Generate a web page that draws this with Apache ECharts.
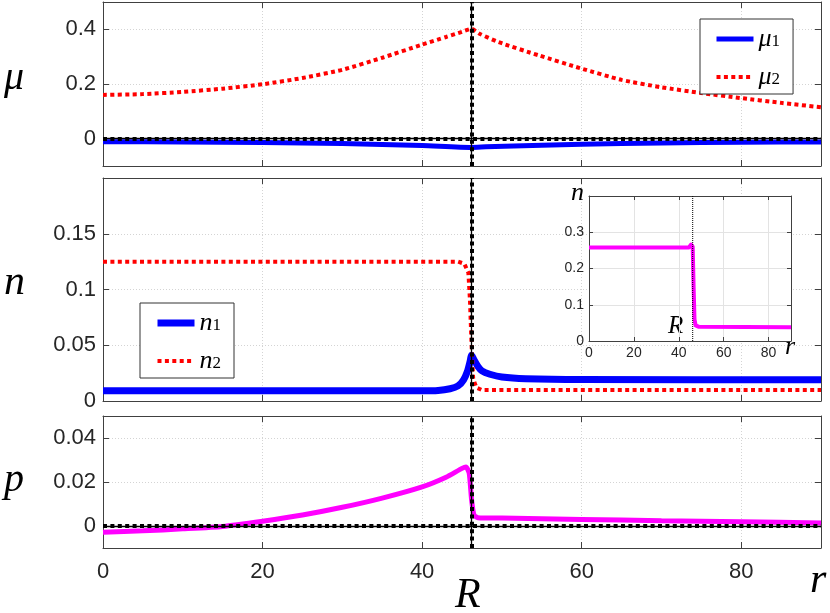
<!DOCTYPE html>
<html><head><meta charset="utf-8">
<script src="https://cdn.jsdelivr.net/npm/echarts@6/dist/echarts.min.js"></script>
<style>html,body{margin:0;padding:0;background:#fff}#c{width:830px;height:613px}</style>
</head><body><div id="c"></div>
<script>
// ---- data ----
const R_POS = 46.2;
const xTicks = [0, 20, 40, 60, 80];
const muTicks = [0, 0.2, 0.4];
const nTicks = [0, 0.05, 0.1, 0.15];
const pTicks = [0, 0.02, 0.04];
const insetYTicks = [0, 0.1, 0.2, 0.3];
const insetYMax = 0.4;

const rMu1 = [0, 10, 20, 30, 40, 46.2, 48, 55, 60, 70, 80, 90];
const mu1  = [-0.011, -0.012, -0.014, -0.018, -0.025, -0.032, -0.030, -0.024, -0.020, -0.016, -0.013, -0.012];

const rMu2 = [0, 5, 10, 15, 20, 25, 30, 35, 40, 43, 45, 46.2, 47.2, 49.6, 54.6, 59.8, 65, 70, 75, 79.8, 85, 90];
const mu2  = [0.160, 0.163, 0.171, 0.183, 0.199, 0.222, 0.252, 0.296, 0.344, 0.372, 0.391, 0.402, 0.384, 0.353, 0.305, 0.258, 0.215, 0.188, 0.167, 0.149, 0.131, 0.115];

const rN1 = [0, 40, 42, 43.5, 44.5, 45.2, 45.7, 46.0, 46.2, 46.5, 47, 47.5, 48.5, 50, 53, 60, 90];
const n1  = [0.0092, 0.0092, 0.0095, 0.0110, 0.0135, 0.0190, 0.0270, 0.0350, 0.0410, 0.0370, 0.0310, 0.0270, 0.0240, 0.0215, 0.0200, 0.0192, 0.0190];

const rN2 = [0, 44.5, 45.3, 45.8, 46.0, 46.2, 46.4, 46.8, 47.5, 90];
const n2  = [0.125, 0.125, 0.123, 0.115, 0.090, 0.050, 0.020, 0.012, 0.0098, 0.0098];

const rP = [0, 5, 10, 15, 20, 25, 30, 35, 40, 43, 45, 45.5, 45.9, 46.2, 46.5, 47, 50, 60, 70, 80, 90];
const p  = [-0.0028, -0.0022, -0.0013, -0.0002, 0.0022, 0.0050, 0.0085, 0.0127, 0.0178, 0.0222, 0.0262, 0.0268, 0.0240, 0.0120, 0.0050, 0.0038, 0.0036, 0.0030, 0.0024, 0.0019, 0.0014];

const rNt = [0, 44.5, 45.5, 46.2, 46.6, 47, 47.5, 49, 90];
const nt  = [0.258, 0.258, 0.266, 0.260, 0.150, 0.060, 0.043, 0.039, 0.038];

const zip = (xs, ys) => xs.map((x, i) => [x, ys[i]]);

// ---- styling helpers ----
const AX = '#404040';
const TXT = '#262626';
const GRIDC = '#d4d4d4';
const SANS = 'Liberation Sans';
const SERIF = 'Liberation Serif';

function xAx(gi, pos, showLabel, ticks, opt) {
  opt = opt || {};
  return {
    type: 'value', gridIndex: gi, position: pos, min: 0, max: 90,
    zlevel: opt.zlevel || 0,
    axisLine: { show: true, onZero: false, lineStyle: { color: AX, width: 1 } },
    axisTick: { show: true, inside: true, length: opt.tickLen || 6, customValues: ticks, lineStyle: { color: AX } },
    axisLabel: { show: showLabel, customValues: ticks, color: TXT, fontFamily: SANS, fontSize: opt.fs || 22, margin: opt.margin || 13 },
    splitLine: { show: pos === 'bottom', lineStyle: { color: opt.gridColor || GRIDC, type: opt.gridType || [1, 2], width: 1 } }
  };
}
function yAx(gi, pos, min, max, ticks, opt) {
  opt = opt || {};
  return {
    type: 'value', gridIndex: gi, position: pos, min: min, max: max,
    zlevel: opt.zlevel || 0,
    axisLine: { show: true, onZero: false, lineStyle: { color: AX, width: 1 } },
    axisTick: { show: true, inside: true, length: opt.tickLen || 6, customValues: ticks, lineStyle: { color: AX } },
    axisLabel: { show: pos === 'left', customValues: ticks, color: TXT, fontFamily: SANS, fontSize: opt.fs || 22, margin: opt.margin || 7 },
    splitLine: { show: pos === 'left', lineStyle: { color: opt.gridColor || GRIDC, type: opt.gridType || [1, 2], width: 1 } }
  };
}

function refLines(lines) {
  const data = [];
  lines.forEach(l => {
    data.push(Object.assign({}, l, { lineStyle: { color: '#000', width: 1.3, type: 'solid' } }));
    data.push(Object.assign({}, l, { lineStyle: { color: '#000', width: 4, type: [4, 3.4] } }));
  });
  return { silent: true, symbol: ['none', 'none'], label: { show: false }, animation: false, data: data };
}

const subFmt = name => {
  const base = name.charAt(0) === 'm' ? 'μ' : 'n';
  return '{i|' + base + '}{s|' + name.charAt(name.length - 1) + '}';
};
const legendRich = {
  i: { fontFamily: SERIF, fontStyle: 'italic', fontSize: 26, color: '#000', lineHeight: 22, verticalAlign: 'middle' },
  s: { fontFamily: SERIF, fontSize: 17, color: '#000', lineHeight: 22, verticalAlign: 'bottom', padding: [9, 0, 0, 0] }
};

const DOT = [4, 3.4];
const NOSYM = { color: 'rgba(0,0,0,0)', borderWidth: 0 };

function legendItem(name, color, width, type) {
  return { name: name, itemStyle: NOSYM, lineStyle: { color: color, width: width, type: type, cap: 'butt' } };
}

const option = {
  animation: false,
  backgroundColor: '#fff',
  grid: [
    { left: 103, top: 2, width: 718, height: 164, outerBoundsMode: 'none' },
    { left: 103, top: 178, width: 718, height: 223, outerBoundsMode: 'none' },
    { left: 103, top: 416, width: 718, height: 132, outerBoundsMode: 'none' },
    { left: 589, top: 196, width: 202, height: 145, show: true, backgroundColor: '#fff', borderWidth: 0, zlevel: 1, outerBoundsMode: 'none' }
  ],
  xAxis: [
    xAx(0, 'bottom', false, xTicks), xAx(0, 'top', false, xTicks),
    xAx(1, 'bottom', false, xTicks), xAx(1, 'top', false, xTicks),
    xAx(2, 'bottom', true, xTicks), xAx(2, 'top', false, xTicks),
    xAx(3, 'bottom', true, xTicks, { zlevel: 1, fs: 14, margin: 5, tickLen: 4, gridColor: '#e3e3e3', gridType: 'solid' }),
    xAx(3, 'top', false, xTicks, { zlevel: 1, tickLen: 4 })
  ],
  yAxis: [
    yAx(0, 'left', -0.1, 0.5, muTicks), yAx(0, 'right', -0.1, 0.5, muTicks),
    yAx(1, 'left', 0, 0.2, nTicks), yAx(1, 'right', 0, 0.2, nTicks),
    yAx(2, 'left', -0.01, 0.05, pTicks), yAx(2, 'right', -0.01, 0.05, pTicks),
    yAx(3, 'left', 0, insetYMax, insetYTicks, { zlevel: 1, fs: 14, margin: 5, tickLen: 4, gridColor: '#e3e3e3', gridType: 'solid' }),
    yAx(3, 'right', 0, insetYMax, insetYTicks, { zlevel: 1, tickLen: 4 })
  ],
  legend: [
    {
      data: [legendItem('mu1', '#0000ff', 5, 'solid'), legendItem('mu2', '#ff0000', 4, DOT)],
      left: 700, top: 19, orient: 'vertical',
      itemWidth: 37, itemHeight: 14, itemGap: 10, padding: [5, 13, 4, 14],
      borderColor: '#333', borderWidth: 1, backgroundColor: '#fff',
      formatter: subFmt, textStyle: { rich: legendRich }
    },
    {
      data: [legendItem('n1', '#0000ff', 7, 'solid'), legendItem('n2', '#ff0000', 4, DOT)],
      left: 140, top: 303, orient: 'vertical',
      itemWidth: 37, itemHeight: 14, itemGap: 10, padding: [5, 13, 4, 14],
      borderColor: '#333', borderWidth: 1, backgroundColor: '#fff',
      formatter: subFmt, textStyle: { rich: legendRich }
    }
  ],
  series: [
    { name: 'mu1', type: 'line', xAxisIndex: 0, yAxisIndex: 0, data: zip(rMu1, mu1), showSymbol: false, symbol: 'none', z: 3,
      smooth: 0.2,
      lineStyle: { color: '#0000ff', width: 5 }, itemStyle: { color: '#0000ff' } },
    { name: 'mu2', type: 'line', xAxisIndex: 0, yAxisIndex: 0, data: zip(rMu2, mu2), showSymbol: false, symbol: 'none', z: 3,
      smooth: 0.2,
      lineStyle: { color: '#ff0000', width: 4, type: DOT, cap: 'butt' }, itemStyle: { color: '#ff0000' },
      markLine: refLines([{ yAxis: 0 }, { xAxis: R_POS }]) },

    { name: 'n1', type: 'line', xAxisIndex: 2, yAxisIndex: 2, data: zip(rN1, n1), showSymbol: false, symbol: 'none', z: 3,
      smooth: 0.2,
      lineStyle: { color: '#0000ff', width: 7, join: 'round' }, itemStyle: { color: '#0000ff' } },
    { name: 'n2', type: 'line', xAxisIndex: 2, yAxisIndex: 2, data: zip(rN2, n2), showSymbol: false, symbol: 'none', z: 4,
      lineStyle: { color: '#ff0000', width: 4, type: DOT, cap: 'butt' }, itemStyle: { color: '#ff0000' },
      markLine: refLines([{ xAxis: R_POS }]) },

    { name: 'p', type: 'line', xAxisIndex: 4, yAxisIndex: 4, data: zip(rP, p), showSymbol: false, symbol: 'none', z: 3,
      smooth: 0.2,
      lineStyle: { color: '#ff00ff', width: 5 }, itemStyle: { color: '#ff00ff' },
      markLine: refLines([{ yAxis: 0 }, { xAxis: R_POS }]) },

    { name: 'ntot', type: 'line', xAxisIndex: 6, yAxisIndex: 6, data: zip(rNt, nt), showSymbol: false, symbol: 'none', zlevel: 1, z: 3,
      lineStyle: { color: '#ff00ff', width: 4, join: 'round' }, itemStyle: { color: '#ff00ff' } },
    { name: 'insetR', type: 'line', xAxisIndex: 6, yAxisIndex: 6, data: [[R_POS, 0], [R_POS, insetYMax]], showSymbol: false, symbol: 'none',
      zlevel: 1, z: 5, silent: true,
      lineStyle: { color: '#000', width: 1, type: [1, 1] } }
  ],
  graphic: [
    { type: 'text', left: 4, top: 58, style: { text: 'μ', font: 'italic 40px "Liberation Serif"', fill: '#000' } },
    { type: 'text', left: 4, top: 262, style: { text: 'n', font: 'italic 42px "Liberation Serif"', fill: '#000' } },
    { type: 'text', left: 4, top: 460, style: { text: 'p', font: 'italic 40px "Liberation Serif"', fill: '#000' } },
    { type: 'text', left: 455, top: 575, style: { text: 'R', font: 'italic 42px "Liberation Serif"', fill: '#000' } },
    { type: 'text', left: 810, top: 560, style: { text: 'r', font: 'italic 42px "Liberation Serif"', fill: '#000' } },
    { type: 'text', left: 571, top: 180, zlevel: 1, style: { text: 'n', font: 'italic 26px "Liberation Serif"', fill: '#000' } },
    { type: 'text', left: 785, top: 334, zlevel: 1, style: { text: 'r', font: 'italic 26px "Liberation Serif"', fill: '#000' } },
    { type: 'text', left: 668, top: 314, zlevel: 1, style: { text: 'R', font: 'italic 25px "Liberation Serif"', fill: '#000' } }
  ]
};

const chart = echarts.init(document.getElementById('c'), null, { renderer: 'canvas' });
chart.setOption(option);
</script>
</body></html>
